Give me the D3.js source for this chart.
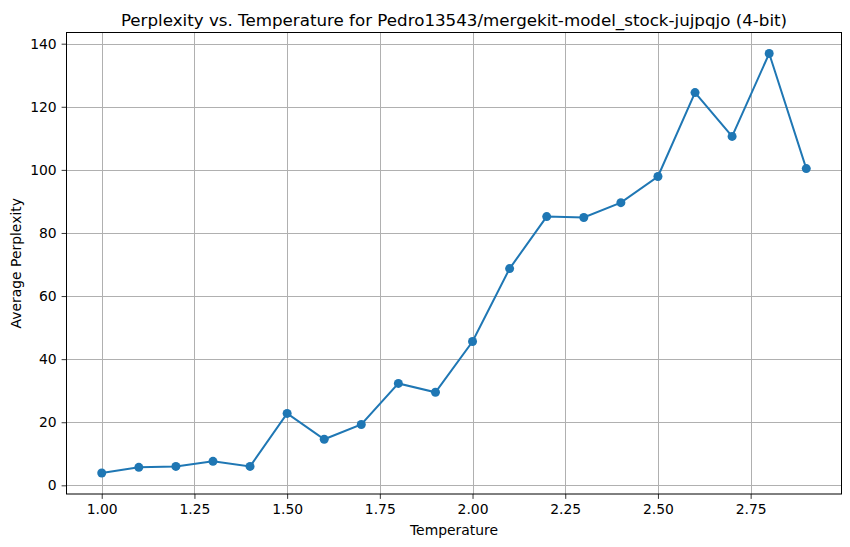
<!DOCTYPE html>
<html><head><meta charset="utf-8">
<script src="https://cdn.jsdelivr.net/npm/d3@7/dist/d3.min.js"></script>
<style>body{margin:0;background:#fff}svg{display:block}text{font-family:"DejaVu Sans",sans-serif}</style>
</head><body>
<script>
const temperatures = [1.0,1.1,1.2,1.3,1.4,1.5,1.6,1.7,1.8,1.9,2.0,2.1,2.2,2.3,2.4,2.5,2.6,2.7,2.8,2.9];
const perplexity = [3.9,5.7,6.0,7.6,6.0,22.8,14.6,19.3,32.3,29.5,45.6,68.7,85.2,84.9,89.6,97.9,124.5,110.6,136.9,100.4];
const xTicks = [1.00,1.25,1.50,1.75,2.00,2.25,2.50,2.75];
const yTicks = [0,20,40,60,80,100,120,140];
const title = "Perplexity vs. Temperature for Pedro13543/mergekit-model_stock-jujpqjo (4-bit)";

const W=850,H=547, L=66.5,R=841.5,T=32.5,B=494;
const svg=d3.select("body").append("svg").attr("width",W).attr("height",H);
const xmin=d3.min(temperatures),xmax=d3.max(temperatures),xm=(xmax-xmin)*0.05;
const ymin=d3.min(perplexity),ymax=d3.max(perplexity),ym=(ymax-ymin)*0.05;
const x=d3.scaleLinear().domain([xmin-xm,xmax+xm]).range([L,R]);
const y=d3.scaleLinear().domain([ymin-ym,ymax+ym]).range([B,T]);

const g=svg.append("g");
g.selectAll(".gx").data(xTicks).enter().append("line")
 .attr("x1",d=>Math.round(x(d))+0.5).attr("x2",d=>Math.round(x(d))+0.5).attr("y1",T).attr("y2",B)
 .attr("stroke","#b0b0b0").attr("stroke-width",1);
g.selectAll(".gy").data(yTicks).enter().append("line")
 .attr("y1",d=>Math.round(y(d))+0.5).attr("y2",d=>Math.round(y(d))+0.5).attr("x1",L).attr("x2",R)
 .attr("stroke","#b0b0b0").attr("stroke-width",1);

const xa=svg.append("g").attr("transform",`translate(0,${B})`)
 .call(d3.axisBottom(x).tickValues(xTicks).tickFormat(d3.format(".2f")).tickSize(4.9).tickPadding(4.9));
const ya=svg.append("g").attr("transform",`translate(${L},0)`)
 .call(d3.axisLeft(y).tickValues(yTicks).tickFormat(d3.format("d")).tickSize(4.9).tickPadding(4.9));
[xa,ya].forEach(a=>{a.select(".domain").remove();a.selectAll("text").attr("font-size","13.9px").attr("fill","#000").style("font-family","DejaVu Sans");a.selectAll("line").attr("stroke","#000").attr("stroke-width",0.8);});

svg.append("path").datum(temperatures.map((t,i)=>[t,perplexity[i]]))
 .attr("fill","none").attr("stroke","#1f77b4").attr("stroke-width",2)
 .attr("d",d3.line().x(d=>x(d[0])).y(d=>y(d[1])));
svg.selectAll(".pt").data(temperatures).enter().append("circle")
 .attr("cx",d=>x(d)).attr("cy",(d,i)=>y(perplexity[i])).attr("r",4.5).attr("fill","#1f77b4");

svg.append("rect").attr("x",L).attr("y",T).attr("width",R-L).attr("height",B-T)
 .attr("fill","none").attr("stroke","#000").attr("stroke-width",1);

svg.append("text").attr("x",(L+R)/2).attr("y",T-7).attr("text-anchor","middle")
 .attr("font-size","16.7px").text(title);
svg.append("text").attr("x",(L+R)/2).attr("y",535).attr("text-anchor","middle")
 .attr("font-size","13.9px").text("Temperature");
svg.append("text").attr("transform",`translate(21,${(T+B)/2}) rotate(-90)`).attr("text-anchor","middle")
 .attr("font-size","13.9px").text("Average Perplexity");
</script>
</body></html>
